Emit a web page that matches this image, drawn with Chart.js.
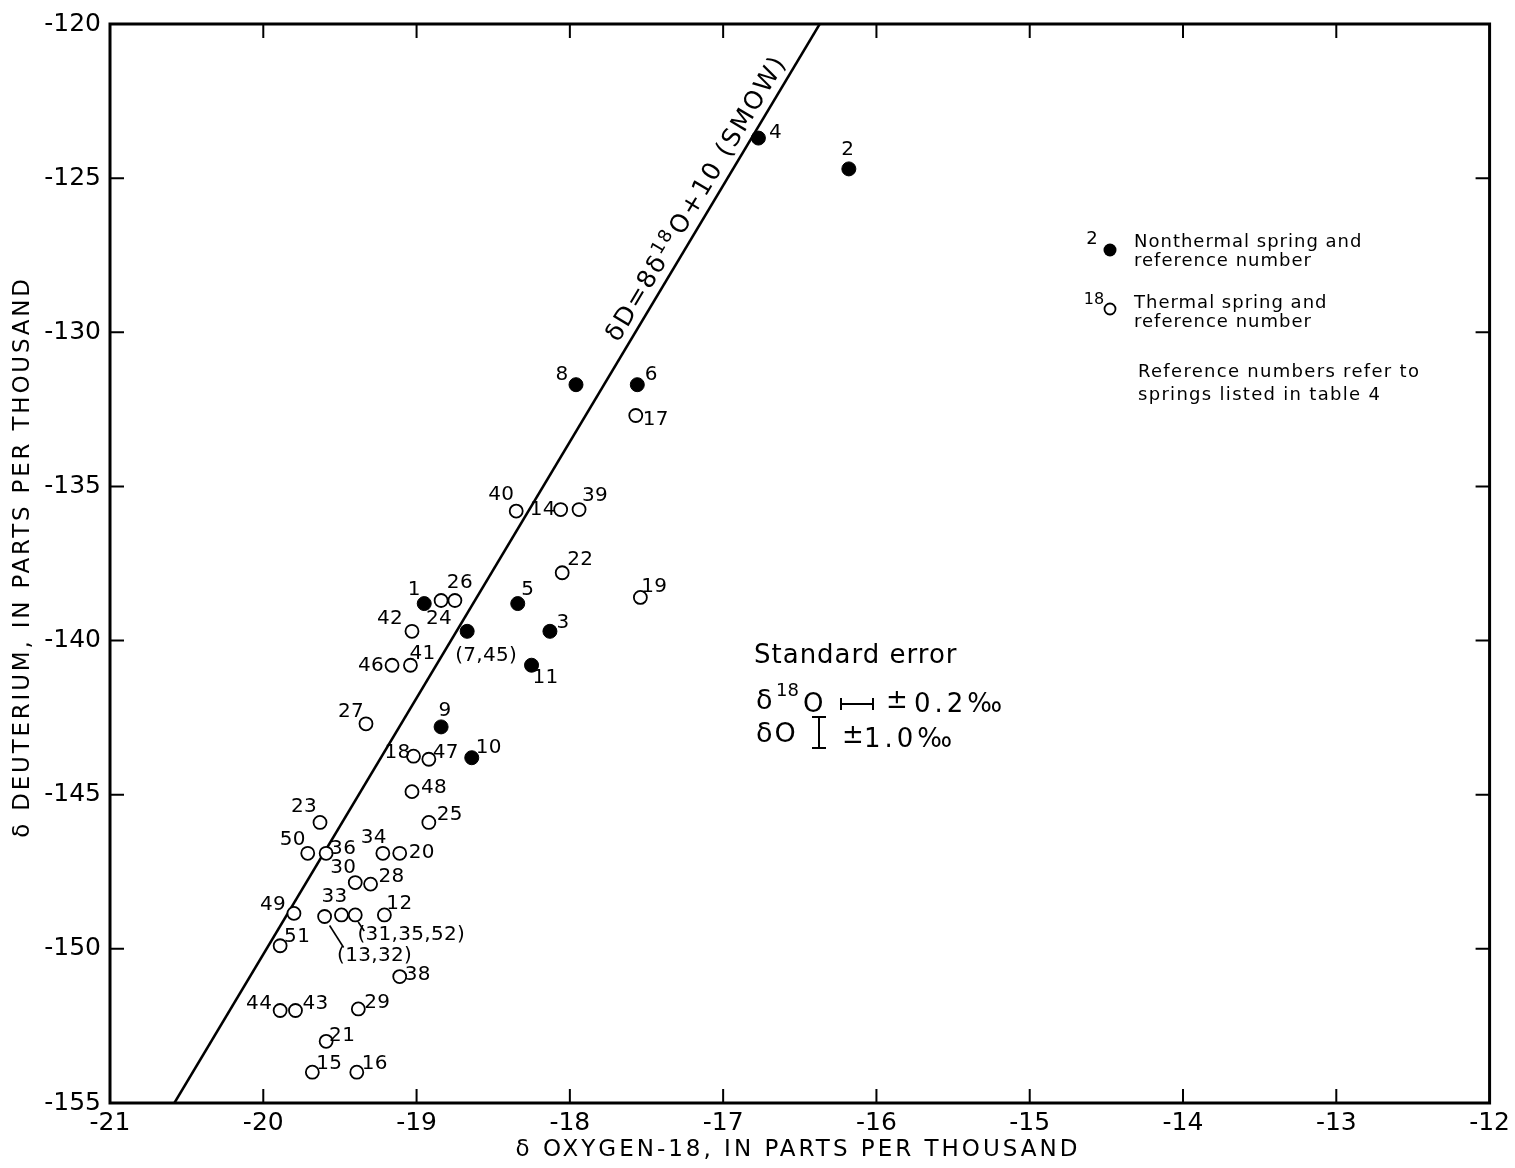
<!DOCTYPE html>
<html>
<head>
<meta charset="utf-8">
<script src="https://cdn.jsdelivr.net/npm/chart.js@4.4.1/dist/chart.umd.min.js"></script>
<style>
  html, body { margin: 0; padding: 0; background: #fff; }
  #wrap { width: 1515px; height: 1168px; }
</style>
</head>
<body>
<div id="wrap"><canvas id="chart" width="1515" height="1168"></canvas></div>
<script>
// values (per mil)
const xTicks = [-21, -20, -19, -18, -17, -16, -15, -14, -13, -12];
const yTicks = [-155, -150, -145, -140, -135, -130, -125, -120];

const nonthermalRefs = ['4', '2', '8', '6', '1', '5', '(7,45)', '3', '11', '9', '10'];
const nonthermalO18 = [-16.77, -16.18, -17.96, -17.56, -18.95, -18.34, -18.67, -18.13, -18.25, -18.84, -18.64];
const nonthermalD = [-123.7, -124.7, -131.7, -131.7, -138.8, -138.8, -139.7, -139.7, -140.8, -142.8, -143.8];

const thermalRefs = ['17', '40', '14', '39', '22', '19', '24', '26', '42', '46', '41', '27',
  '18', '47', '48', '23', '25', '50', '36', '34', '20', '30', '28', '49',
  '(13,32)', '33', '(31,35,52)', '12', '51', '38', '44', '43', '29', '21', '15', '16'];
const thermalO18 = [-17.57, -18.35, -18.06, -17.94, -18.05, -17.54, -18.84, -18.75, -19.03, -19.16, -19.04, -19.33,
  -19.02, -18.92, -19.03, -19.63, -18.92, -19.71, -19.59, -19.22, -19.11, -19.40, -19.30, -19.80,
  -19.60, -19.49, -19.40, -19.21, -19.89, -19.11, -19.89, -19.79, -19.38, -19.59, -19.68, -19.39];
const thermalD = [-132.7, -135.8, -135.75, -135.75, -137.8, -138.6, -138.7, -138.7, -139.7, -140.8, -140.8, -142.7,
  -143.75, -143.85, -144.9, -145.9, -145.9, -146.9, -146.9, -146.9, -146.9, -147.85, -147.9, -148.85,
  -148.95, -148.9, -148.9, -148.9, -149.9, -150.9, -152, -152, -151.95, -153, -154, -154];

// meteoric water line as drawn
const lineO18 = [-20.58, -16.37];
const lineD = [-155, -120];

// where each reference number sits relative to its point (px)
const labelOffsets = {
  '4': [17, -5], '2': [-1, -19], '8': [-14, -10], '6': [14, -10], '1': [-10, -14], '5': [10, -14],
  '(7,45)': [19, 24], '3': [13, -9], '11': [14, 13], '9': [4, -16], '10': [17, -10],
  '17': [20, 4], '40': [-15, -16], '14': [-18, 0], '39': [16, -14], '22': [18, -13], '19': [14, -11],
  '24': [-2, 18], '26': [5, -18], '42': [-22, -13], '46': [-21, 1], '41': [12, -11], '27': [-15, -12],
  '18': [-16, -3], '47': [17, -6], '48': [22, -4], '23': [-16, -16], '25': [21, -8], '50': [-15, -13],
  '36': [17, -4], '34': [-9, -15], '20': [22, 0], '30': [-12, -15], '28': [21, -7], '49': [-21, -9],
  '(13,32)': [50, 39], '33': [-7, -18], '(31,35,52)': [56, 20], '12': [15, -11], '51': [17, -9],
  '38': [18, -2], '44': [-21, -7], '43': [20, -7], '29': [19, -6], '21': [16, -6], '15': [17, -8], '16': [18, -8]
};
const leaders = { '(13,32)': [5, 9, 19, 31], '(31,35,52)': [3, 7, 9, 16] };

const FONT = '"DejaVu Sans", sans-serif';

function toPoints(xs, ys) {
  return xs.map((x, i) => ({x: x, y: ys[i]}));
}

function text(ctx, s, x, y, size, align, ls) {
  ctx.font = size + 'px ' + FONT;
  ctx.letterSpacing = (ls || 0) + 'px';
  ctx.textAlign = align || 'left';
  ctx.textBaseline = 'middle';
  ctx.fillText(s, x, y);
}

const frameTicks = {
  id: 'frameTicks',
  afterDatasetsDraw(chart) {
    const {ctx, chartArea: a, scales: {x, y}} = chart;
    ctx.save();
    ctx.strokeStyle = '#000';
    ctx.lineWidth = 2;
    ctx.beginPath();
    xTicks.slice(1, -1).forEach(v => {
      const px = x.getPixelForValue(v);
      ctx.moveTo(px, a.bottom); ctx.lineTo(px, a.bottom - 14);
      ctx.moveTo(px, a.top); ctx.lineTo(px, a.top + 14);
    });
    yTicks.slice(1, -1).forEach(v => {
      const py = y.getPixelForValue(v);
      ctx.moveTo(a.left, py); ctx.lineTo(a.left + 14, py);
      ctx.moveTo(a.right, py); ctx.lineTo(a.right - 14, py);
    });
    ctx.stroke();
    ctx.lineWidth = 3;
    ctx.strokeRect(a.left, a.top, a.right - a.left, a.bottom - a.top);
    ctx.restore();
  }
};

const pointLabels = {
  id: 'pointLabels',
  afterDatasetsDraw(chart) {
    const ctx = chart.ctx;
    ctx.save();
    ctx.fillStyle = '#000';
    ctx.strokeStyle = '#000';
    ctx.lineWidth = 1.6;
    chart.data.datasets.forEach((ds, di) => {
      if (!ds.refs) return;
      chart.getDatasetMeta(di).data.forEach((pt, i) => {
        const ref = ds.refs[i];
        const off = labelOffsets[ref] || [14, -10];
        text(ctx, ref, pt.x + off[0], pt.y + off[1], 20, 'center', 0.3);
        const ld = leaders[ref];
        if (ld) {
          ctx.beginPath();
          ctx.moveTo(pt.x + ld[0], pt.y + ld[1]);
          ctx.lineTo(pt.x + ld[2], pt.y + ld[3]);
          ctx.stroke();
        }
      });
    });
    ctx.restore();
  }
};

const annotations = {
  id: 'annotations',
  afterDraw(chart) {
    const {ctx, scales: {x, y}} = chart;
    ctx.save();
    ctx.fillStyle = '#000';
    ctx.strokeStyle = '#000';

    // axis titles
    text(ctx, 'δ OXYGEN-18, IN PARTS PER THOUSAND', 798, 1150, 23, 'center', 3);
    ctx.save();
    ctx.translate(23, 557);
    ctx.rotate(-Math.PI / 2);
    text(ctx, 'δ DEUTERIUM, IN PARTS PER THOUSAND', 0, 0, 23, 'center', 2.8);
    ctx.restore();

    // label along the meteoric water line
    const x1 = x.getPixelForValue(lineO18[0]), y1 = y.getPixelForValue(lineD[0]);
    const x2 = x.getPixelForValue(lineO18[1]), y2 = y.getPixelForValue(lineD[1]);
    const t = 0.70;
    ctx.save();
    ctx.translate(x1 + (x2 - x1) * t, y1 + (y2 - y1) * t);
    ctx.rotate(Math.atan2(y2 - y1, x2 - x1));
    ctx.textBaseline = 'alphabetic';
    ctx.textAlign = 'left';
    ctx.letterSpacing = '2px';
    ctx.font = '25px ' + FONT;
    let cx = 0;
    const base = -9;
    ctx.fillText('δD=8δ', cx, base);
    cx += ctx.measureText('δD=8δ').width;
    ctx.font = '18px ' + FONT;
    ctx.fillText('18', cx, base - 9);
    cx += ctx.measureText('18').width + 1;
    ctx.font = '25px ' + FONT;
    ctx.fillText('O+10 (SMOW)', cx, base);
    ctx.restore();

    // legend
    text(ctx, '2', 1092, 239, 18, 'center');
    ctx.beginPath(); ctx.arc(1110, 250, 6.5, 0, Math.PI * 2); ctx.fill();
    text(ctx, 'Nonthermal spring and', 1134, 242, 18, 'left', 1);
    text(ctx, 'reference number', 1134, 261, 18, 'left', 1);
    text(ctx, '18', 1094, 300, 16, 'center');
    ctx.lineWidth = 1.8;
    ctx.beginPath(); ctx.arc(1110, 309, 5.5, 0, Math.PI * 2); ctx.stroke();
    text(ctx, 'Thermal spring and', 1134, 303, 18, 'left', 1);
    text(ctx, 'reference number', 1134, 322, 18, 'left', 1);
    text(ctx, 'Reference numbers refer to', 1138, 372, 18, 'left', 1.3);
    text(ctx, 'springs listed in table 4', 1138, 395, 18, 'left', 1.3);

    // standard error box
    text(ctx, 'Standard error', 754, 656, 26, 'left', 1);
    text(ctx, 'δ', 756, 702, 27, 'left');
    text(ctx, '18', 776, 691, 18, 'left');
    text(ctx, 'O', 803, 705, 26, 'left');
    ctx.lineWidth = 2;
    ctx.beginPath();
    ctx.moveTo(841, 704); ctx.lineTo(873, 704);
    ctx.moveTo(841, 698); ctx.lineTo(841, 710);
    ctx.moveTo(873, 698); ctx.lineTo(873, 710);
    ctx.moveTo(819, 717); ctx.lineTo(819, 748);
    ctx.moveTo(812, 717); ctx.lineTo(826, 717);
    ctx.moveTo(812, 748); ctx.lineTo(826, 748);
    ctx.stroke();
    text(ctx, '±', 886, 701, 26, 'left');
    text(ctx, '0.2‰', 914, 705, 26, 'left', 4);
    text(ctx, 'δO', 756, 735, 27, 'left', 2);
    text(ctx, '±', 842, 736, 26, 'left');
    text(ctx, '1.0‰', 864, 740, 26, 'left', 4);

    ctx.restore();
  }
};

new Chart(document.getElementById('chart').getContext('2d'), {
  type: 'scatter',
  data: {
    datasets: [{
      label: 'Nonthermal spring',
      refs: nonthermalRefs,
      data: toPoints(nonthermalO18, nonthermalD),
      pointRadius: 7,
      backgroundColor: '#000',
      borderColor: '#000',
      borderWidth: 1,
      order: 1
    }, {
      label: 'Thermal spring',
      refs: thermalRefs,
      data: toPoints(thermalO18, thermalD),
      pointRadius: 6.5,
      backgroundColor: '#fff',
      borderColor: '#000',
      borderWidth: 1.8,
      order: 2
    }, {
      label: 'Meteoric water line',
      data: toPoints(lineO18, lineD),
      showLine: true,
      pointRadius: 0,
      borderColor: '#000',
      borderWidth: 2.5,
      order: 3
    }]
  },
  options: {
    responsive: false,
    devicePixelRatio: 1,
    animation: false,
    events: [],
    layout: {
      padding: {top: 23, right: 23.5, left: 0, bottom: 0}
    },
    plugins: {
      legend: {display: false},
      tooltip: {enabled: false}
    },
    scales: {
      x: {
        type: 'linear',
        min: -21,
        max: -12,
        afterBuildTicks: s => { s.ticks = xTicks.map(v => ({value: v})); },
        afterFit: s => { s.height = 65; },
        grid: {display: false, drawTicks: false},
        border: {display: false},
        ticks: {
          color: '#000',
          padding: 5,
          font: {family: FONT, size: 25}
        }
      },
      y: {
        type: 'linear',
        min: -155,
        max: -120,
        afterBuildTicks: s => { s.ticks = yTicks.map(v => ({value: v})); },
        afterFit: s => { s.width = 110; },
        grid: {display: false, drawTicks: false},
        border: {display: false},
        ticks: {
          color: '#000',
          padding: 9,
          font: {family: FONT, size: 25}
        }
      }
    }
  },
  plugins: [frameTicks, pointLabels, annotations]
});
</script>
</body>
</html>
